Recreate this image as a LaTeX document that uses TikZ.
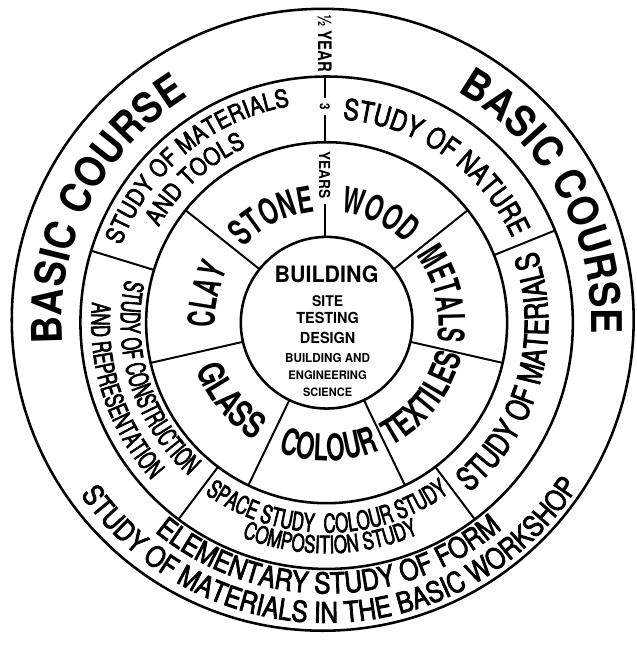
\documentclass[tikz,border=0pt]{standalone}
\usepackage{fontspec}
\setmainfont{TeX Gyre Heros}
\newfontfamily\gyB{TeX Gyre Heros}[FakeStretch=0.60]
\newfontfamily\gyC{TeX Gyre Heros}[FakeStretch=0.65]
\newfontfamily\gyD{TeX Gyre Heros}[FakeStretch=0.70]
\newfontfamily\gyE{TeX Gyre Heros}[FakeStretch=0.75]
\newfontfamily\gyF{TeX Gyre Heros}[FakeStretch=0.80]
\newfontfamily\gyG{TeX Gyre Heros}[FakeStretch=0.85]
\newfontfamily\gyH{TeX Gyre Heros}[FakeStretch=0.90]
\newfontfamily\gyI{TeX Gyre Heros}[FakeStretch=0.95]
% medium-weight condensed faces for the lighter texts
\newfontfamily\mdB{TeX Gyre Heros}[FakeStretch=0.60,FakeBold=2.5]
\newfontfamily\mdC{TeX Gyre Heros}[FakeStretch=0.65,FakeBold=2.5]
\newfontfamily\mdD{TeX Gyre Heros}[FakeStretch=0.70,FakeBold=2.5]
\newfontfamily\mdE{TeX Gyre Heros}[FakeStretch=0.75,FakeBold=2.5]
\newfontfamily\mdF{TeX Gyre Heros}[FakeStretch=0.80,FakeBold=2.5]
\newfontfamily\mdG{TeX Gyre Heros}[FakeStretch=0.85,FakeBold=2.5]
\usetikzlibrary{decorations.text}
% clockwise arc text (letters' tops point outward), baseline radius #1, centre angle #2
\newcommand\cwtext[4]{\path[decorate,decoration={text along path,text align=center,text={|#3|#4}}] ({#2+80}:#1pt) arc[start angle={#2+80},end angle={#2-80},radius=#1pt];}
% counter-clockwise arc text (letters' tops point inward)
\newcommand\ccwtext[4]{\path[decorate,decoration={text along path,text align=center,text={|#3|#4}}] ({#2-80}:#1pt) arc[start angle={#2-80},end angle={#2+80},radius=#1pt];}
\newcommand\fs[1]{\fontsize{#1}{#1}\selectfont}
\begin{document}
\begin{tikzpicture}[x=1pt,y=1pt,
  ring/.style={line width=2.6pt},
  spoke/.style={line width=2pt},
  ctext/.style={anchor=base,inner sep=0pt,font=\gyI\bfseries}]
\path[fill=white] (-333,-318) rectangle (316,329);
% circles
\draw[ring] (-4,3) circle[radius=317pt];
\draw[ring] (0,0) circle[radius=251pt];
\draw[ring] (0,0) circle[radius=184pt];
\draw[ring] (0,0) circle[radius=87.5pt];
% spokes of the middle ring
\foreach \a in {22,163,233,307} \draw[spoke] (\a:184pt) -- (\a:251pt);
% spokes of the inner ring
\foreach \a in {38.57,141.43,192.86,244.29,295.71,347.14} \draw[spoke] (\a:87.5pt) -- (\a:184pt);
% vertical time line
\draw[spoke] (-2,251) -- (-2,229);
\draw[spoke] (-2,212) -- (-2,184);
\draw[spoke] (-2,121) -- (-2,87.5);
\node[rotate=-90,inner sep=0pt,font=\gyF\bfseries\fs{19}] (half) at (-2,285) {½ YEAR};
\node[rotate=-90,inner sep=0pt,font=\gyG\bfseries\fs{14}] (three) at (-2,220) {3};
\node[rotate=-90,inner sep=0pt,font=\gyH\bfseries\fs{15.5}] (years) at (-2,151) {YEARS};
% outer ring
\cwtext{270}{153}{\gyH\bfseries\fs{43}}{BASIC COURSE}
\cwtext{270}{29}{\gyH\bfseries\fs{43}}{BASIC COURSE}
\ccwtext{276}{270.5}{\mdG\fs{29.5}}{ELEMENTARY STUDY OF FORM}
\ccwtext{306}{271}{\mdG\fs{29.3}}{STUDY OF MATERIALS IN THE BASIC WORKSHOP}
% middle ring
\cwtext{224}{129.5}{\mdG\fs{25}}{STUDY OF MATERIALS}
\cwtext{197}{132.5}{\mdG\fs{25}}{AND TOOLS}
\cwtext{208}{55}{\mdF\fs{29.3}}{STUDY OF NATURE}
\ccwtext{226}{-15.5}{\mdE\fs{33}}{STUDY OF MATERIALS}
\ccwtext{210}{198}{\mdB\fs{27.4}}{STUDY OF CONSTRUCTION}
\ccwtext{240}{198.5}{\mdC\fs{26.2}}{AND REPRESENTATION}
\ccwtext{214}{250.5}{\mdC\fs{26}}{SPACE STUDY}
\ccwtext{214}{287.5}{\mdC\fs{26.5}}{COLOUR STUDY}
\ccwtext{235}{271}{\mdD\fs{24.5}}{COMPOSITION STUDY}
% inner ring
\cwtext{114}{117}{\gyC\bfseries\fs{37}}{STONE}
\cwtext{114}{64}{\gyC\bfseries\fs{36.3}}{WOOD}
\cwtext{114}{167}{\gyB\bfseries\fs{38}}{CLAY}
\ccwtext{141}{219}{\gyE\bfseries\fs{37}}{GLASS}
\ccwtext{141}{271}{\gyC\bfseries\fs{37.6}}{COLOUR}
\ccwtext{142}{322}{\gyD\bfseries\fs{36}}{TEXTILES}
\cwtext{114}{13.5}{\gyB\bfseries\fs{37.3}}{METALS}
% centre
\node[ctext,font=\gyI\bfseries\fs{23}] (building) at (0,41) {BUILDING};
\node[ctext,font=\gyI\bfseries\fs{15}] (site) at (1,17) {SITE};
\node[ctext,font=\gyI\bfseries\fs{15.5}] (testing) at (1,-1) {TESTING};
\node[ctext,font=\gyI\bfseries\fs{15.5}] (design) at (1,-21) {DESIGN};
\node[ctext,font=\gyI\bfseries\fs{12.5}] (bae) at (1,-41) {BUILDING AND};
\node[ctext,font=\gyI\bfseries\fs{12}] (eng) at (1,-58) {ENGINEERING};
\node[ctext,font=\gyI\bfseries\fs{11.8}] (sci) at (1,-75) {SCIENCE};
\end{tikzpicture}
\end{document}
